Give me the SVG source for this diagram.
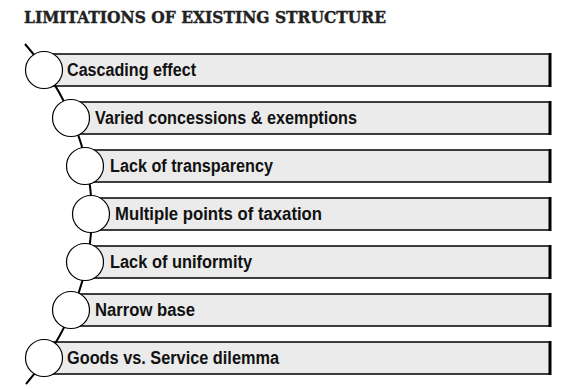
<svg xmlns="http://www.w3.org/2000/svg" width="570" height="389" viewBox="0 0 570 389">
<style>
.bar{fill:#ebebeb;stroke:#000;stroke-width:1.5}
.edge{stroke:#000;stroke-width:3}
.dot{fill:#fff;stroke:#000;stroke-width:1.2}
.lbl{font-family:"Liberation Sans",Arial,sans-serif;font-weight:bold;font-size:17.5px;fill:#111}
.title{font-family:"DejaVu Serif","Liberation Serif",serif;font-weight:bold;font-size:16.5px;fill:#222;stroke:#222;stroke-width:0.4}
</style>
<rect width="570" height="389" fill="#fff"/>
<text class="title" x="24" y="23" textLength="362" lengthAdjust="spacingAndGlyphs">LIMITATIONS OF EXISTING STRUCTURE</text>
<g id="bars">
<g id="n1"><rect class="bar" x="44" y="54" width="506" height="32"/><line class="edge" x1="550" y1="53" x2="550" y2="87"/></g>
<g id="n2"><rect class="bar" x="71" y="102" width="479" height="32"/><line class="edge" x1="550" y1="101" x2="550" y2="135"/></g>
<g id="n3"><rect class="bar" x="85" y="150" width="465" height="32"/><line class="edge" x1="550" y1="149" x2="550" y2="183"/></g>
<g id="n4"><rect class="bar" x="91" y="198" width="459" height="32"/><line class="edge" x1="550" y1="197" x2="550" y2="231"/></g>
<g id="n5"><rect class="bar" x="85" y="246" width="465" height="32"/><line class="edge" x1="550" y1="245" x2="550" y2="279"/></g>
<g id="n6"><rect class="bar" x="71" y="294" width="479" height="32"/><line class="edge" x1="550" y1="293" x2="550" y2="327"/></g>
<g id="n7"><rect class="bar" x="44" y="342" width="506" height="32"/><line class="edge" x1="550" y1="341" x2="550" y2="375"/></g>
</g>
<g id="connectors">
<path d="M 25 44 A 376 300 0 0 1 26 384" fill="none" stroke="#000" stroke-width="2"/>
</g>
<g id="circles">
<circle class="dot" cx="44" cy="70" r="18.5"/>
<circle class="dot" cx="71" cy="118" r="18.5"/>
<circle class="dot" cx="85" cy="166" r="18.5"/>
<circle class="dot" cx="91" cy="214" r="18.5"/>
<circle class="dot" cx="85" cy="262" r="18.5"/>
<circle class="dot" cx="71" cy="310" r="18.5"/>
<circle class="dot" cx="44" cy="358" r="18.5"/>
</g>
<g id="labels">
<text class="lbl" x="67" y="76" textLength="129" lengthAdjust="spacingAndGlyphs">Cascading effect</text>
<text class="lbl" x="95" y="124" textLength="262" lengthAdjust="spacingAndGlyphs">Varied concessions &amp; exemptions</text>
<text class="lbl" x="110" y="172" textLength="163" lengthAdjust="spacingAndGlyphs">Lack of transparency</text>
<text class="lbl" x="115" y="220" textLength="207" lengthAdjust="spacingAndGlyphs">Multiple points of taxation</text>
<text class="lbl" x="110" y="268" textLength="142" lengthAdjust="spacingAndGlyphs">Lack of uniformity</text>
<text class="lbl" x="95" y="316" textLength="100" lengthAdjust="spacingAndGlyphs">Narrow base</text>
<text class="lbl" x="67" y="364" textLength="212" lengthAdjust="spacingAndGlyphs">Goods vs. Service dilemma</text>
</g>
</svg>
